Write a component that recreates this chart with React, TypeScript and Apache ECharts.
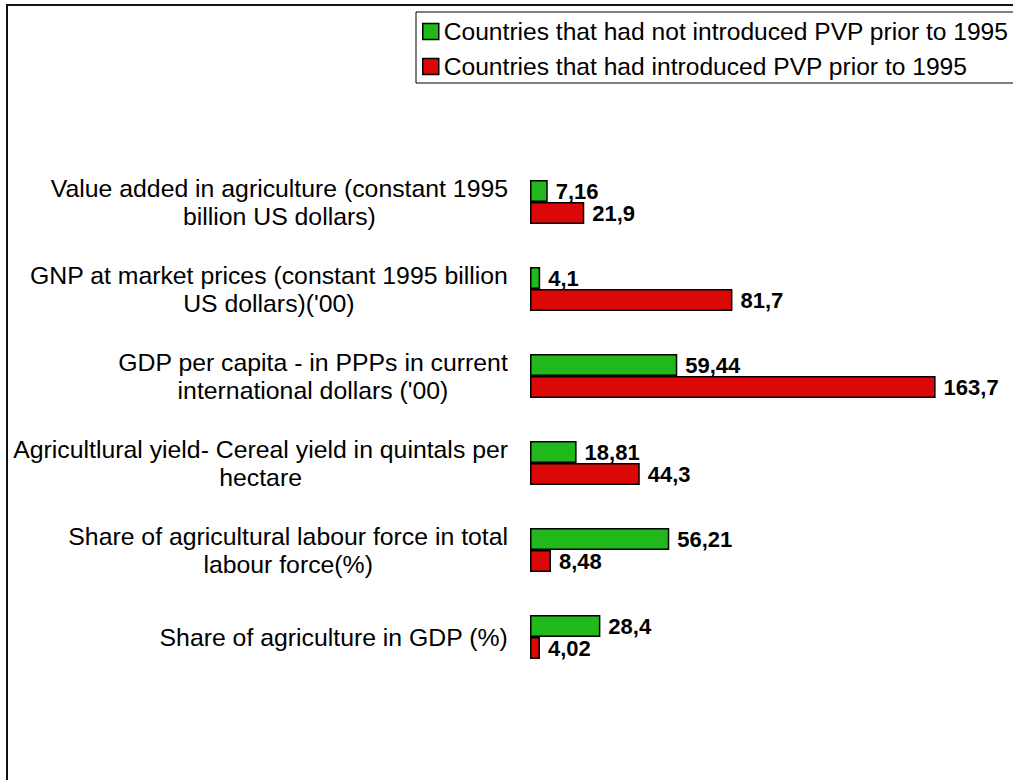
import React, { useEffect, useRef } from "react";
import * as echarts from "echarts";

const categories: string[] = [
  "Value added in agriculture (constant 1995\nbillion US dollars)",
  "GNP at market prices (constant 1995 billion\nUS dollars)('00)",
  "GDP per capita - in PPPs in current\ninternational dollars ('00)",
  "Agricultlural yield- Cereal yield in quintals per\nhectare",
  "Share of agricultural labour force in total\nlabour force(%)",
  "Share of agriculture in GDP (%)",
];

const seriesNames: string[] = [
  "Countries that had not introduced PVP prior to 1995",
  "Countries that had introduced PVP prior to 1995",
];

const notIntroduced: number[] = [7.16, 4.1, 59.44, 18.81, 56.21, 28.4];
const introduced: number[] = [21.9, 81.7, 163.7, 44.3, 8.48, 4.02];

const GREEN = "#20b81a";
const RED = "#dc0707";
const FONT = "'Liberation Sans', Arial, Helvetica, sans-serif";

const fmt = (v: number) => String(v).replace(".", ",");

export default function App() {
  const ref = useRef<HTMLDivElement>(null);

  useEffect(() => {
    if (!ref.current) return;
    const chart = echarts.init(ref.current, undefined, { renderer: "svg" });
    const barLabel = {
      show: true,
      position: "right" as const,
      distance: 8,
      color: "#000",
      fontFamily: FONT,
      fontWeight: "bold" as const,
      fontSize: 22,
      formatter: (p: any) => fmt(p.value),
    };
    chart.setOption({
      animation: false,
      backgroundColor: "#fff",
      textStyle: { fontFamily: FONT },
      graphic: [
        {
          type: "rect",
          shape: { x: 7, y: 5, width: 1200, height: 1000 },
          style: { fill: "none", stroke: "#111", lineWidth: 2 },
          silent: true,
          z: 100,
        },
      ],
      legend: {
        orient: "vertical",
        left: 416,
        top: 12,
        padding: [7, 40, 4, 6],
        itemGap: 10,
        itemWidth: 16,
        itemHeight: 16,
        icon: "rect",
        borderColor: "#000",
        borderWidth: 1,
        backgroundColor: "#fff",
        textStyle: {
          fontFamily: FONT,
          fontSize: 24.6,
          color: "#000",
        },
        data: [
          { name: seriesNames[0], itemStyle: { color: GREEN, borderColor: "#000", borderWidth: 1.5 } },
          { name: seriesNames[1], itemStyle: { color: RED, borderColor: "#000", borderWidth: 1.5 } },
        ],
      },
      grid: { left: 530, top: 158.5, height: 522, width: 446, containLabel: false },
      xAxis: {
        type: "value",
        min: 0,
        max: 180,
        show: false,
        splitLine: { show: false },
      },
      yAxis: {
        type: "category",
        inverse: true,
        data: categories,
        axisLine: { show: false },
        axisTick: { show: false },
        axisLabel: {
          margin: 22,
          color: "#000",
          fontFamily: FONT,
          fontSize: 24.8,
          formatter: (v: string) => `{c|${v}}`,
          rich: {
            c: { align: "center", fontSize: 24.8, lineHeight: 28, fontFamily: FONT, color: "#000" },
          },
        },
      },
      series: [
        {
          name: seriesNames[0],
          type: "bar",
          data: notIntroduced,
          barWidth: 22,
          barGap: "0%",
          itemStyle: { color: GREEN, borderColor: "#000", borderWidth: 1.5 },
          label: barLabel,
        },
        {
          name: seriesNames[1],
          type: "bar",
          data: introduced,
          barWidth: 22,
          barGap: "0%",
          itemStyle: { color: RED, borderColor: "#000", borderWidth: 1.5 },
          label: barLabel,
        },
      ],
    });
    return () => chart.dispose();
  }, []);

  return (
    <div
      ref={ref}
      style={{ position: "absolute", left: 0, top: 0, width: 1013, height: 780 }}
    />
  );
}
